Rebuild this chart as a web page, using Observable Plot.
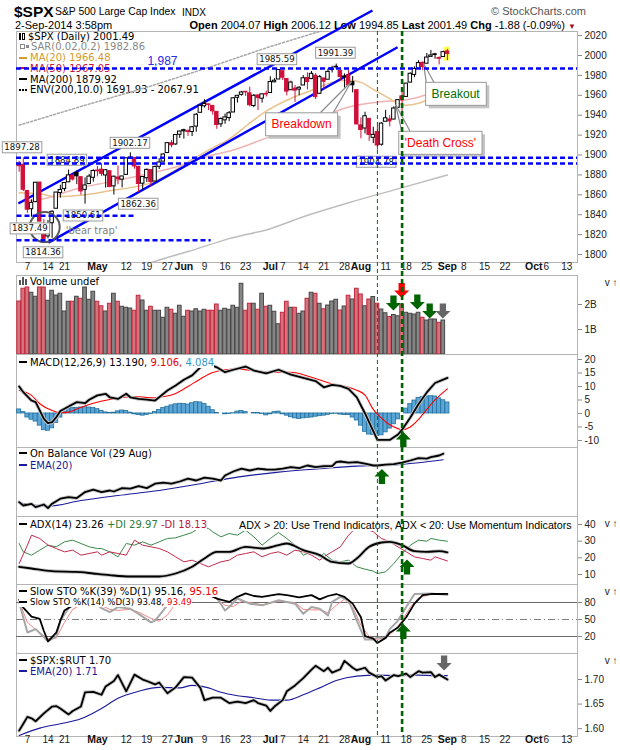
<!DOCTYPE html>
<html><head><meta charset="utf-8">
<script src="https://cdn.jsdelivr.net/npm/d3@7"></script>
<script src="https://cdn.jsdelivr.net/npm/@observablehq/plot@0.6"></script>
<style>
html,body{margin:0;padding:0;background:#fff;overflow:hidden;}
#wrap{position:relative;width:620px;height:750px;overflow:hidden;background:#fff;}
.t{position:absolute;white-space:pre;line-height:1;color:#000;}
.leg{position:absolute;left:19px;font:10px "DejaVu Sans",sans-serif;line-height:11px;white-space:pre;color:#000;}
.leg .b{background:#fff;}
.ic{display:inline-block;width:8px;height:2px;vertical-align:middle;margin:0 3px 1px 0;background:#000;}
</style></head>
<body><div id="wrap"></div>
<script>
// ---------------- DATA (trading days 3-Apr-2014 .. 2-Sep-2014, day index -1 .. 103) ----------------
const prevClose = 1890.90; // close of 2-Apr-2014
const openPx = [1891.43,1890.25,1863.92,1845.48,1852.64,1872.28,1830.65,1818.18,1831.45,1846.01,1861.73,1865.79,1872.57,1879.32,1881.97,1877.72,1865.00,1870.78,1877.10,
1884.39,1885.30,1879.45,1883.69,1868.53,1877.39,1875.27,1880.03,1896.75,1897.13,1888.16,1871.19,1876.66,1884.88,1873.34,1888.19,1893.32,1902.01,1911.77,1910.60,1920.33,
1923.87,1923.07,1923.06,1928.52,1942.41,1948.97,1950.34,1949.37,1943.35,1930.80,1934.84,1937.15,1942.73,1957.50,1960.45,1962.92,1961.97,1949.27,1959.89,1956.56,1960.79,
1962.29,1973.06,1975.88,1984.22,1976.39,1965.10,1966.67,1965.76,1969.86,1977.36,1976.35,1979.75,1961.54,1976.93,1975.65,1985.32,1988.07,1984.60,1978.25,1980.03,1973.21,1965.14,
1929.80,1926.62,1936.34,1917.29,1923.03,1910.35,1933.43,1935.73,1935.60,1947.41,1958.87,1958.36,1972.73,1980.46,1986.82,1992.60,1991.74,1998.59,2000.54,1997.42,1998.45,
2004.07];
const highPx = [1893.80,1897.28,1864.04,1854.95,1872.43,1872.53,1835.07,1834.19,1844.02,1862.31,1869.63,1871.89,1884.89,1879.75,1884.06,1877.72,1877.01,1880.60,1885.20,
1888.59,1891.33,1885.51,1883.69,1878.83,1889.07,1878.57,1897.13,1902.17,1897.13,1888.16,1878.28,1886.00,1884.88,1888.80,1896.33,1901.26,1912.28,1914.46,1920.03,1924.03,
1925.88,1925.07,1928.63,1941.74,1949.44,1955.55,1950.86,1949.37,1943.35,1937.30,1941.15,1943.69,1957.74,1959.87,1963.91,1963.74,1968.17,1960.83,1959.89,1961.47,1964.24,
1978.58,1976.67,1985.59,1984.22,1976.39,1974.15,1969.84,1968.67,1979.85,1982.52,1983.94,1981.80,1979.91,1976.93,1986.24,1989.23,1991.39,1984.60,1981.52,1984.85,1978.90,1965.14,
1937.35,1942.92,1936.34,1927.91,1928.89,1932.38,1944.90,1939.65,1948.41,1955.23,1964.04,1971.99,1982.57,1988.57,1994.76,1993.54,2001.95,2005.04,2002.14,1998.55,2004.28,
2006.12];
const lowPx = [1882.65,1863.26,1841.48,1837.49,1852.38,1833.08,1814.36,1815.80,1816.29,1846.01,1856.72,1863.18,1872.57,1873.91,1870.24,1859.70,1850.61,1870.78,1872.69,
1878.04,1878.50,1866.77,1867.72,1859.79,1870.05,1867.02,1880.03,1896.06,1885.77,1862.36,1864.82,1872.42,1868.14,1873.34,1885.39,1893.32,1902.01,1907.30,1909.82,1916.64,
1915.98,1918.79,1918.60,1922.93,1942.41,1947.16,1944.64,1940.08,1925.78,1927.69,1930.91,1933.55,1942.73,1952.26,1959.17,1958.89,1948.34,1947.49,1944.69,1952.18,1958.22,
1962.29,1972.58,1975.88,1974.88,1959.46,1965.10,1952.86,1959.63,1969.86,1965.34,1975.67,1955.59,1960.82,1965.77,1975.65,1982.44,1985.79,1974.37,1967.31,1969.95,1962.42,1930.67,
1916.37,1921.20,1913.77,1911.45,1904.78,1909.01,1933.43,1928.29,1935.60,1947.41,1941.50,1958.36,1972.73,1977.68,1986.82,1984.76,1991.74,1998.59,1996.20,1990.52,1998.45,
1994.85];
const closePx = [1888.77,1865.09,1845.04,1851.96,1872.18,1833.08,1815.69,1830.61,1842.98,1862.31,1864.85,1871.89,1879.55,1875.39,1878.61,1863.40,1869.43,1878.33,1883.95,
1883.68,1881.14,1884.66,1867.72,1878.21,1875.63,1878.48,1896.65,1897.45,1888.53,1870.85,1877.86,1885.08,1872.83,1888.03,1892.49,1900.53,1911.91,1909.78,1920.03,1923.57,
1924.97,1924.24,1927.88,1940.46,1949.44,1951.27,1950.79,1943.89,1930.11,1936.16,1937.78,1941.99,1956.98,1959.48,1962.87,1962.61,1949.98,1959.53,1957.22,1960.96,1960.23,
1973.32,1974.62,1985.44,1977.65,1963.71,1972.83,1964.68,1967.57,1977.10,1973.28,1981.57,1958.12,1978.22,1973.63,1983.53,1987.01,1987.98,1978.34,1978.91,1969.95,1970.07,1930.67,
1925.15,1938.99,1920.21,1920.24,1909.57,1931.59,1936.92,1933.75,1946.72,1955.18,1955.06,1971.74,1981.60,1986.51,1992.37,1988.40,1997.92,2000.02,2000.12,1996.74,2003.37,
2001.49];
// volume (billions), 3-Apr .. 29-Aug
const volB = [2.12,2.63,2.68,2.47,2.31,2.68,2.68,2.15,2.55,2.36,2.43,1.72,2.11,2.11,2.31,2.23,2.68,2.19,2.51,
2.11,1.93,1.72,2.03,2.43,2.11,1.91,1.87,1.84,1.75,2.35,2.16,1.75,1.91,1.75,1.75,1.47,1.87,1.79,1.63,1.95,
1.51,1.75,1.72,1.81,1.72,1.79,1.75,1.75,2.00,1.75,1.83,1.79,1.95,1.87,2.83,1.75,2.03,2.03,1.79,2.43,1.91,
1.95,1.71,1.21,1.67,2.11,1.87,1.87,1.63,1.72,2.23,2.47,2.43,2.03,1.81,1.96,2.12,2.19,1.76,1.92,2.35,2.20,2.63,
2.40,1.93,2.20,2.30,2.03,1.80,1.65,1.50,1.58,1.53,1.99,1.67,1.63,1.60,1.67,1.47,1.36,1.40,1.40,1.27,1.36];

// overlays on price
const ma20Day = [-1,4,8,15,21,27,31,35,40,45,50,55,59,64,70,75,79,82,85,88,90,93,96,99,103];
const ma20Val = [1862,1861,1858,1860,1864,1868,1872,1880,1893,1905,1916,1932,1944,1955,1965,1973,1975,1973,1966,1959,1954,1950,1952,1957,1966.48];
const ma50Day = [-1,5,13,21,29,37,45,51,59,67,72,78,84,88,91,95,99,103];
const ma50Val = [1853,1856,1866,1873,1880,1888,1899,1905,1917,1928,1937,1947,1952,1954,1954.5,1957,1962,1967.05];
const ma200Day = [28,35,40,50,60,68,79,91,103];
const ma200Val = [1788,1797,1803,1816,1826,1838,1852,1866,1879.92];
const envDay = [-1,15,30,45,60,75,90];
const envVal = [1930,1950,1968,1988,2009,2028,2048];
const levelVal = [1987,1897.28,1891.5];
const shortLevelVal = [1839,1814.36];
const shortLevelEnd = [26.8,45.5];
const chanStartDay = [-1.2,6.1], chanStartVal = [1851.3,1812];
const chanEndDay = [84.8,90.9], chanEndVal = [2045.2,2008.3];
const valLabels = ["1897.28","1884.89","1902.17","1850.61","1862.36","1837.49","1814.36","1985.59","1991.39","1904.78"];
const valLabelDay = [-0.3,10.6,25.9,14.5,27.9,1.6,4.8,61.6,75.8,85.7];
const valLabelPx = [1907.5,1895,1912,1839,1850.8,1826,1802,1996,2002.5,1893];
const callText = ["Breakdown","'Death Cross'","Breakout"];
const callKind = ["bear","bear","bull"];
const callDay = [67.6,101.3,105.0];
const callPx = [1930.7,1912.1,1961.3];
const ptrFromDay = [72.2,75.3,92.1,94.1,97.9,99.9];
const ptrFromPx = [1942.7,1942.7,1920.6,1922.6,1971.9,1971.9];
const ptrToDay = [79.7,79.7,90.4,90.4,97.2,97.2];
const ptrToPx = [1973.9,1973.9,1950.8,1950.8,1992,1992];
const trapDay = [5.2], trapPx = [1827.6];
const lastDay = [103], lastLo = [1994.3], lastHi = [2008.3];
const priceTicks = [1800,1820,1840,1860,1880,1900,1920,1940,1960,1980,2000,2020];
const xTickDay = [1,6,10,18,25,30,35,39,44,49,54,60,63,68,73,78,82,88,93,98,103,107,112,117,124,127,132];
const xTickText = ["7","14","21","May","12","19","27","Jun","9","16","23","Jul","7","14","21","28","Aug","11","18","25","Sep","8","15","22","Oct","6","13"];
const signalDay = [86,92]; // Aug 7 low, Aug 15 signal

// volume arrows
const volArrowDay = [89.9,91.9,95.7,98.7,101.9];
const volArrowVal = [2.06,2.56,2.10,1.74,1.74];
const volArrowKind = ["bull","bear","bull","bull","neutral"];

// MACD
const macdDay = [-1,0,2,3,5,6,7,8,9,11,13,15,16,18,20,21,23,25,26,28,30,32,33,35,37,39,41,43,45,47,49,51,54,56,59,62,65,68,71,73,75,77,79,81,83,85,86,89,91,92,94,96,98,100,103];
const macdVal = [10.0,7.9,4.8,4.2,-2.0,-3.6,-3.2,-1.4,0.9,2.6,4.2,3.8,5.1,6.7,7.3,6.0,5.4,7.3,6.0,5.4,5.1,4.8,6.0,8.5,10.4,12.5,14.1,17.1,18.3,17.1,15.3,16.2,17.4,15.9,14.9,16.2,14.4,13.2,12.0,9.7,10.6,10.2,9.1,6.0,0.0,-6.5,-9.8,-9.8,-7.8,-6.0,-1.5,3.5,7.8,11.3,13.19];
const sigDay = [-1,2,4,7,9,11,13,17,21,27,31,33,37,40,43,46,51,56,61,65,70,75,79,81,83,85,87,89,91,92,94,96,98,100,103];
const sigVal = [8.5,6.7,3.6,1.1,0.3,0.5,1.7,3.8,5.2,6.3,5.8,6.0,7.4,10.0,12.8,15.2,16.5,15.9,15.3,15.3,13.4,11.0,9.7,8.6,6.8,1.5,-1.7,-4.2,-5.6,-6.0,-5.0,-2.2,1.5,5.0,9.106];
const histVal = [1.5,0.5,-1.5,-2.3,-3.0,-4.5,-6.2,-6.4,-5.5,-3.5,
-1.5,0.5,1.8,2.0,2.1,2.2,2.3,2.2,2.0,1.6,
1.0,0.4,0.2,0.3,0.8,1.1,0.9,0.3,-0.3,-0.6,
-0.8,-0.5,-0.2,0.6,1.3,2.0,2.5,3.0,3.4,3.6,
3.5,3.3,3.8,4.2,4.1,3.5,2.5,1.2,0.2,0.0,
-0.3,-0.2,0.1,0.7,0.9,0.5,0.0,0.2,0.2,-0.2,
-0.7,-0.3,0.5,0.7,-0.3,-0.8,-1.4,-1.8,-2.0,-1.8,
-1.6,-1.5,-1.2,-1.0,-0.8,-0.5,-0.2,-0.1,-0.4,-0.6,
-0.6,-1.5,-2.6,-4.5,-6.8,-7.8,-8.0,-8.3,-8.1,-7.0,
-5.6,-4.0,-2.2,0.0,1.8,3.5,4.8,5.7,6.1,6.3,
6.4,6.3,5.6,4.9,4.084];
const macdArrowDay = [92.3], macdArrowVal = [-9.6];

// On Balance Volume (panel units)
const obvDay = [-1,0,2,3,5,6,7,9,11,13,15,17,19,21,22,24,26,28,30,32,34,36,38,40,42,44,46,48,49,51,53,55,57,59,61,63,65,67,69,71,73,75,76,77,79,81,83,85,86,88,90,92,94,96,98,99,101,102];
const obvVal = [7.2,5.5,6.3,4.7,6.0,4.2,6.4,8.9,9.7,9.2,12.2,13.4,12.2,13.0,12.5,14.2,13.9,15.2,14.2,16.4,16.9,16.4,17.5,18.9,18.0,19.4,18.9,18.0,20.5,22.5,23.9,23.0,23.9,23.5,23.4,23.9,24.7,24.2,25.5,24.7,25.2,25.2,27.2,27.5,26.9,27.2,26.4,25.5,25.5,25.9,26.2,26.9,28.0,29.2,28.9,29.7,30.5,31.4];
const obvEmaDay = [-1,6,14,23,33,43,52,62,72,81,86,91,96,102];
const obvEmaVal = [6.8,5.2,8.0,10.5,13.0,16.4,19.7,22.2,23.9,25.2,25.5,25.9,26.9,28.4];
const obvArrowDay = [87.1], obvArrowVal = [20];

// ADX
const adxDay = [-1,2,7,12,14,17,21,26,33,37,41,44,47,50,54,58,62,64,68,72,75,79,81,84,87,89,92,95,98,101,103];
const adxVal = [14.6,13.6,12,11.6,11.4,10.6,9.6,8.8,8.8,10.6,14.6,19.6,23.6,23.6,26.6,25.6,27.6,28.6,24.6,21.6,17.6,16.6,19.6,26.6,29.2,29.6,27.6,24.0,23.6,24.0,23.26];
const pdiDay = [-1,0,2,4,6,8,10,12,14,16,18,19,21,23,25,27,29,31,33,35,37,39,41,43,45,46,48,50,52,54,56,58,60,62,64,66,68,70,72,73,75,77,79,81,83,85,86,88,90,92,94,96,98,99,101,103];
const pdiVal = [28.6,23.6,21.6,24.6,27.6,26.6,29.6,30.6,28.6,26.6,25.6,25.6,23.6,20.6,28.6,27.6,29.6,27.6,29.6,31.6,32.0,33.6,35.2,38.6,37.6,35.6,32.6,34.6,33.6,36.6,32.6,27.6,31.6,35.2,31.6,27.6,21.6,23.6,20.6,22.6,18.6,17.6,18.6,14.6,13.2,12.0,10.6,11.6,16.6,22.6,27.6,30.6,30.0,31.6,30.6,29.97];
const mdiDay = [-1,1,2,4,6,8,10,12,14,16,18,19,21,23,25,27,29,31,33,35,37,39,41,43,45,46,48,50,52,54,56,58,60,62,64,66,68,70,72,73,75,77,79,81,83,85,87,89,91,93,95,97,99,100,103];
const mdiVal = [16.6,27.6,33.6,31.6,27.6,25.6,23.6,24.6,21.6,22.6,23.6,21.6,23.6,22.6,21.6,30.6,27.6,26.6,25.6,23.6,20.6,17.6,18.6,16.6,14.6,15.6,17.6,18.6,21.6,22.6,23.6,20.6,22.6,23.6,21.6,24.6,23.6,21.6,18.6,20.6,23.6,26.6,33.6,38.6,37.6,35.6,31.6,29.6,26.6,23.6,20.6,19.6,18.6,20.6,18.13];
const adxArrowDay = [93.2], adxArrowVal = [14.5];

// Slow stochastics
const sto39Day = [-1,0,2,4,5,6,8,9,10,12,15,18,22,27,31,36,41,45,47,50,52,54,56,58,62,64,67,70,72,74,76,78,80,82,83,85,86,88,89,91,93,95,97,99,101,103];
const sto39Val = [85,70.9,55,51,29.7,11.5,26.7,47.9,66,75,80,88,92,85,88,93,96,94,87,81,90,96,91.5,90,95,93,89,93,85.5,91.5,95,90,78,54,20.6,16.4,8.5,17.6,26.7,35.8,54,78,93,95,95,95.16];
const sto14Day = [-1,1,3,6,8,9,11,14,17,19,21,23,26,28,31,32,34,36,39,42,45,47,49,50,52,55,58,62,66,68,70,72,74,75,77,79,81,83,85,86,88,89,91,93,95,99,103];
const sto14Val = [80,27,33,11.5,20,47.9,70,85,82,70,63,72,69,60,45,48,66,85,92,95,93,88,66,72,87,78,75,84,78,60,72,69,57,81,90,84,48,14.6,14.6,18,18,33,48,72,95,96,93.48];
const stoDDay = [-1,1,3,6,8,10,12,15,18,21,23,26,28,31,33,35,37,41,45,47,49,51,53,55,58,62,66,68,70,72,74,76,78,80,82,84,86,88,90,92,94,96,99,103];
const stoDVal = [82,45,32,16,17,45,68,80,78,68,66,68,63,52,47,58,78,90,93,86,75,73,82,80,76,82,80,68,67,67,62,75,86,72,40,20,15,17,30,48,72,88,95,93.49];
const stoLevels = [80,20], stoMid = [50];
const stoArrowDay = [92.3], stoArrowVal = [28.9];

// $SPX:$RUT
const rutDay = [-1,0,1,2,3,5,7,8,9,11,12,14,15,17,19,20,22,23,25,27,29,30,32,33,35,37,39,41,43,44,46,48,50,52,54,56,57,59,60,61,63,64,66,68,70,71,73,74,75,77,78,80,81,83,84,86,87,88,90,91,93,94,96,97,99,100,101,103];
const rutVal = [1.596,1.61,1.624,1.621,1.615,1.631,1.645,1.646,1.641,1.629,1.636,1.645,1.674,1.675,1.669,1.686,1.697,1.709,1.676,1.71,1.70,1.697,1.69,1.694,1.672,1.684,1.705,1.704,1.683,1.658,1.663,1.663,1.652,1.655,1.652,1.658,1.652,1.647,1.636,1.645,1.658,1.676,1.688,1.703,1.72,1.728,1.717,1.724,1.714,1.721,1.738,1.724,1.719,1.724,1.714,1.705,1.707,1.698,1.709,1.707,1.712,1.705,1.717,1.714,1.715,1.705,1.71,1.70];
const rutEmaDay = [-1,4,9,14,19,23,28,33,38,41,45,48,52,56,60,64,68,72,76,81,86,91,96,100,103];
const rutEmaVal = [1.586,1.601,1.61,1.62,1.641,1.662,1.676,1.684,1.683,1.688,1.683,1.674,1.667,1.663,1.658,1.658,1.669,1.683,1.698,1.707,1.709,1.708,1.709,1.708,1.708];
const rutArrowDay = [102.2], rutArrowVal = [1.7337];

// ---------------- BUILD ----------------
const wrap = document.getElementById("wrap");
const add = h => wrap.insertAdjacentHTML("beforeend", h);
const RED = "#d0103a";
const KIND = {bull: "#006400", bear: "#ff0000", neutral: "#666666"};
const X = {type: "linear", domain: [-1.65, 134.6], axis: null};
const pts = (ds, vs) => ds.map((d, i) => ({d, v: vs[i]}));

const arrowDown = {draw(c, size) { const r = Math.sqrt(size / Math.PI), s = 0.42 * r;
  c.moveTo(-s, -r); c.lineTo(s, -r); c.lineTo(s, 0); c.lineTo(r, 0); c.lineTo(0, r); c.lineTo(-r, 0); c.lineTo(-s, 0); c.closePath(); }};
const arrowUp = {draw(c, size) { const r = Math.sqrt(size / Math.PI), s = 0.42 * r;
  c.moveTo(-s, r); c.lineTo(s, r); c.lineTo(s, 0); c.lineTo(r, 0); c.lineTo(0, -r); c.lineTo(-r, 0); c.lineTo(-s, 0); c.closePath(); }};

function panel(top, height, y, marks, mb = 0) {
  const svg = Plot.plot({
    width: 620, height, marginLeft: 16, marginRight: 43, marginTop: 0, marginBottom: mb,
    x: X, y, color: {type: "identity"}, marks,
    style: {background: "transparent", overflow: "visible", fontFamily: "'Liberation Sans', Arial, sans-serif", fontSize: "10px", color: "#222"}
  });
  svg.style.position = "absolute"; svg.style.left = "0px"; svg.style.top = top + "px";
  wrap.appendChild(svg);
  return svg;
}
// draw a bordered box (optionally with drop shadow) behind given label texts
function boxify(svg, labels, px, py, shadow) {
  const set = new Set(labels);
  Array.from(svg.querySelectorAll("text")).filter(t => set.has(t.textContent)).forEach(t => {
    const bb = t.getBBox(), tr = t.getAttribute("transform");
    const mk = (dx, fill, stroke) => {
      const r = document.createElementNS("http://www.w3.org/2000/svg", "rect");
      r.setAttribute("x", bb.x - px + dx); r.setAttribute("y", bb.y - py + dx);
      r.setAttribute("width", bb.width + 2 * px); r.setAttribute("height", bb.height + 2 * py);
      if (tr) r.setAttribute("transform", tr);
      r.setAttribute("fill", fill); r.setAttribute("stroke", stroke || "none"); r.setAttribute("stroke-width", "1");
      t.parentNode.insertBefore(r, t);
    };
    if (shadow) mk(3, "#c4c4c4", null);
    mk(0, "#fff", "#9a9a9a");
  });
}
const yAxis = (ticks, fmt) => Plot.axisY({anchor: "right", ticks, tickSize: 4, tickPadding: 3, stroke: "#8a8a8a", fill: "#222", tickFormat: fmt || (d => String(d))});
const frame = () => Plot.frame({stroke: "#b4b4b4"});
const xLabels = dy => [
  Plot.text(xTickDay.map((d, i) => ({d, t: xTickText[i]})).filter(o => !isNaN(+o.t)), {x: "d", text: "t", frameAnchor: "bottom", dy, fontSize: 10, fill: "#222"}),
  Plot.text(xTickDay.map((d, i) => ({d, t: xTickText[i]})).filter(o => isNaN(+o.t)), {x: "d", text: "t", frameAnchor: "bottom", dy, fontSize: 10.5, fontWeight: "bold", fill: "#111"})
];

// ----- header -----
add(`<div class="t" style="left:14px;top:3px;font:bold 15.5px 'Liberation Sans'">$SPX</div>
<div class="t" style="left:55px;top:6px;font:10.4px 'Liberation Sans'">S&amp;P 500 Large Cap Index</div>
<div class="t" style="left:182px;top:6.5px;font:10px 'Liberation Sans'">INDX</div>
<div class="t" style="left:491px;top:5px;font:11px 'Liberation Sans';color:#555">© StockCharts.com</div>
<div class="t" style="left:15px;top:19px;font:11px 'Liberation Sans'">2-Sep-2014 3:58pm</div>
<div class="t" style="right:44px;top:19px;font:11px 'Liberation Sans'"><b>Open</b> 2004.07 <b>High</b> 2006.12 <b>Low</b> 1994.85 <b>Last</b> 2001.49 <b>Chg</b> -1.88 (-0.09%) <span style="color:#a0102a;font-size:8px">▼</span></div>`);

// ----- price legend (under the chart lines) -----
add(`<div class="leg" style="top:31.5px;line-height:10.8px"><span style="display:inline-block;width:2px;height:7px;background:#000;margin-right:1px"></span><span style="display:inline-block;width:3px;height:7px;border:1px solid #000;box-sizing:border-box;margin-right:3px"></span>$SPX (Daily) 2001.49
<span style="color:#888"><span style="display:inline-block;width:3px;height:3px;border:1px solid #888;margin:0 1px 1px 1px;vertical-align:middle"></span><span style="display:inline-block;width:3px;height:3px;background:#888;margin:0 2px 1px 0;vertical-align:middle"></span>SAR(0.02,0.2) 1982.86</span>
<span style="color:#d49a2a"><i class="ic" style="background:#d49a2a"></i>MA(20) 1966.48</span>
<span style="color:#cc1040"><i class="ic" style="background:#cc1040"></i>MA(50) 1967.05</span>
<i class="ic"></i>MA(200) 1879.92
<i class="ic" style="background:none;border-top:2px dotted #000;height:0"></i>ENV(200,10.0) 1691.93 - 2067.91</div>`);

// ----- price panel -----
const candles = openPx.map((o, i) => ({d: i - 1, o, h: highPx[i], l: lowPx[i], c: closePx[i], p: i ? closePx[i - 1] : prevClose}));
const cCol = k => k.c < k.p ? RED : "#000";
const priceSvg = panel(31, 244, {domain: [1792, 2024.1]}, [
  frame(),
  Plot.rect(lastDay.map((d, i) => ({d, lo: lastLo[i], hi: lastHi[i]})), {x1: k => k.d - 0.75, x2: k => k.d + 0.75, y1: "lo", y2: "hi", fill: "#ffff55"}),
  Plot.line(pts(ma200Day, ma200Val), {x: "d", y: "v", stroke: "#bdbdbd", strokeWidth: 1.5, curve: "monotone-x", clip: true}),
  Plot.line(pts(envDay, envVal), {x: "d", y: "v", stroke: "#a8a8a8", strokeWidth: 1.5, strokeDasharray: "2,2", clip: true}),
  Plot.line(pts(ma50Day, ma50Val), {x: "d", y: "v", stroke: "#f0b4b4", strokeWidth: 1.5, curve: "monotone-x", clip: true}),
  Plot.line(pts(ma20Day, ma20Val), {x: "d", y: "v", stroke: "#eac28c", strokeWidth: 1.5, curve: "monotone-x", clip: true}),
  Plot.link(chanStartDay.map((d, i) => ({x1: d, y1: chanStartVal[i], x2: chanEndDay[i], y2: chanEndVal[i]})), {x1: "x1", y1: "y1", x2: "x2", y2: "y2", stroke: "#0000ff", strokeWidth: 2.5}),
  Plot.ruleX(candles, {x: "d", y1: "l", y2: "h", stroke: cCol, strokeWidth: 1}),
  Plot.rect(candles, {x1: k => k.d - 0.42, x2: k => k.d + 0.42, y1: "o", y2: k => Math.abs(k.c - k.o) < 0.6 ? k.o + 0.6 : k.c, fill: k => k.c >= k.o ? "#fff" : cCol(k), stroke: cCol, strokeWidth: 1}),
  Plot.dot(trapDay.map((d, i) => ({d, v: trapPx[i]})), {x: "d", y: "v", r: 15, stroke: "#5a5a5a", strokeWidth: 2, fill: "none"}),
  Plot.text(trapDay.map(d => ({d: d + 11.4, v: trapPx[0] - 3.6})), {x: "d", y: "v", text: () => "'bear trap'", fill: "#808080", fontSize: 10, fontFamily: "'DejaVu Sans'"}),
  Plot.text(valLabels.map((t, i) => ({t, d: valLabelDay[i], v: valLabelPx[i]})), {x: "d", y: "v", text: "t", fontSize: 8.6, fontFamily: "'DejaVu Sans'", fill: "#111"}),
  Plot.link(ptrFromDay.map((d, i) => ({x1: d, y1: ptrFromPx[i], x2: ptrToDay[i], y2: ptrToPx[i]})), {x1: "x1", y1: "y1", x2: "x2", y2: "y2", stroke: "#8a8a8a", strokeWidth: 1.2}),
  Plot.text(callText.map((t, i) => ({t, d: callDay[i], v: callPx[i], k: callKind[i]})), {x: "d", y: "v", text: "t", fontSize: 12, fill: k => k.k === "bull" ? "#007000" : "#ff0000"}),
  Plot.ruleY(levelVal, {stroke: "#0000ff", strokeWidth: 2.5, strokeDasharray: "5,3"}),
  Plot.link(shortLevelVal.map((v, i) => ({v, e: shortLevelEnd[i]})), {x1: () => -1.65, x2: "e", y1: "v", y2: "v", stroke: "#0000ff", strokeWidth: 2.5, strokeDasharray: "5,3"}),
  Plot.text([levelVal[0]], {x: () => 33.8, y: v => v + 7, text: () => "1,987", fill: "#2a2ae0", fontSize: 12}),
  yAxis(priceTicks),
  ...xLabels(7)
], 13);
boxify(priceSvg, valLabels, 2, 0.5, false);
boxify(priceSvg, callText, 6, 4.5, true);

// ----- volume -----
const vols = volB.map((v, i) => ({d: i - 1, v, up: closePx[i] >= (i ? closePx[i - 1] : prevClose)}));
panel(275, 79, {domain: [0, 3.16]}, [
  frame(),
  Plot.rect(vols, {x1: k => k.d - 0.45, x2: k => k.d + 0.45, y1: () => 0, y2: "v", fill: k => k.up ? "#868686" : "#d5737c", stroke: k => k.up ? "#474747" : "#c0283e", strokeWidth: 1}),
  Plot.dot(volArrowDay.map((d, i) => ({d, v: volArrowVal[i], k: volArrowKind[i]})), {x: "d", y: "v", r: 7.5, symbol: arrowDown, fill: k => KIND[k.k], stroke: "none"}),
  yAxis([1, 2], d => d + "B")
]);

// ----- MACD -----
panel(354, 93, {domain: [-12.6, 21.85]}, [
  frame(),
  Plot.rect(histVal.map((h, i) => ({d: i - 1, h})), {x1: k => k.d - 0.5, x2: k => k.d + 0.5, y1: () => 0, y2: "h", fill: "#5ba6d6", stroke: "#23709e", strokeWidth: 0.8}),
  Plot.line(pts(sigDay, sigVal), {x: "d", y: "v", stroke: "#ff0000", strokeWidth: 1.1, curve: "monotone-x"}),
  Plot.line(pts(macdDay, macdVal), {x: "d", y: "v", stroke: "#c8c8c8", strokeWidth: 3.6}),
  Plot.line(pts(macdDay, macdVal), {x: "d", y: "v", stroke: "#000", strokeWidth: 1.8}),
  Plot.dot(macdArrowDay.map((d, i) => ({d, v: macdArrowVal[i]})), {x: "d", y: "v", r: 7.5, symbol: arrowUp, fill: "#006400"}),
  yAxis([-10, -5, 0, 5, 10, 15, 20])
]);

// ----- OBV -----
panel(447, 69, {domain: [0, 34.5], axis: null}, [
  frame(),
  Plot.line(pts(obvEmaDay, obvEmaVal), {x: "d", y: "v", stroke: "#1a1a9a", strokeWidth: 1.1, curve: "monotone-x"}),
  Plot.line(pts(obvDay, obvVal), {x: "d", y: "v", stroke: "#c8c8c8", strokeWidth: 3.6}),
  Plot.line(pts(obvDay, obvVal), {x: "d", y: "v", stroke: "#000", strokeWidth: 1.8}),
  Plot.dot(obvArrowDay.map((d, i) => ({d, v: obvArrowVal[i]})), {x: "d", y: "v", r: 7.5, symbol: arrowUp, fill: "#006400"})
]);

// ----- ADX -----
panel(516, 68, {domain: [4, 44.8]}, [
  frame(),
  Plot.line(pts(pdiDay, pdiVal), {x: "d", y: "v", stroke: "#3a8a4a", strokeWidth: 1}),
  Plot.line(pts(mdiDay, mdiVal), {x: "d", y: "v", stroke: "#c22a4e", strokeWidth: 1}),
  Plot.line(pts(adxDay, adxVal), {x: "d", y: "v", stroke: "#c8c8c8", strokeWidth: 3.6, curve: "monotone-x", clip: true}),
  Plot.line(pts(adxDay, adxVal), {x: "d", y: "v", stroke: "#000", strokeWidth: 1.8, curve: "monotone-x", clip: true}),
  Plot.dot(adxArrowDay.map((d, i) => ({d, v: adxArrowVal[i]})), {x: "d", y: "v", r: 7.5, symbol: arrowUp, fill: "#006400"}),
  yAxis([10, 20, 30, 40])
]);

// ----- Slow STO -----
panel(584, 69, {domain: [-10, 111.8]}, [
  frame(),
  Plot.ruleY(stoLevels, {stroke: "#6a6a6a", strokeWidth: 1}),
  Plot.ruleY(stoMid, {stroke: "#808080", strokeWidth: 1, strokeDasharray: "7,3,1,3"}),
  Plot.line(pts(stoDDay, stoDVal), {x: "d", y: "v", stroke: "#f08a8a", strokeWidth: 1}),
  Plot.line(pts(sto14Day, sto14Val), {x: "d", y: "v", stroke: "#a6a6a6", strokeWidth: 2}),
  Plot.line(pts(sto39Day, sto39Val), {x: "d", y: "v", stroke: "#000", strokeWidth: 1.8}),
  Plot.dot(stoArrowDay.map((d, i) => ({d, v: stoArrowVal[i]})), {x: "d", y: "v", r: 7.5, symbol: arrowUp, fill: "#006400"}),
  yAxis([20, 50, 80])
]);

// ----- $SPX:$RUT -----
panel(653, 97, {domain: [1.584, 1.753]}, [
  frame(),
  Plot.line(pts(rutEmaDay, rutEmaVal), {x: "d", y: "v", stroke: "#1a1a9a", strokeWidth: 1.1, curve: "monotone-x"}),
  Plot.line(pts(rutDay, rutVal), {x: "d", y: "v", stroke: "#c8c8c8", strokeWidth: 3.6}),
  Plot.line(pts(rutDay, rutVal), {x: "d", y: "v", stroke: "#000", strokeWidth: 1.8}),
  Plot.dot(rutArrowDay.map((d, i) => ({d, v: rutArrowVal[i]})), {x: "d", y: "v", r: 7.5, symbol: arrowDown, fill: "#666666"}),
  yAxis([1.60, 1.65, 1.70], d => d.toFixed(2)),
  ...xLabels(6.5)
], 14);

// ----- panel legends -----
add(`<div class="leg" style="top:275.5px"><span style="display:inline-block;width:2px;height:5px;background:#555;margin-right:1px"></span><span style="display:inline-block;width:2px;height:8px;background:#555;margin-right:1px"></span><span style="display:inline-block;width:2px;height:6px;background:#555;margin-right:3px"></span>Volume undef</div>`);
add(`<div class="leg" style="top:356.5px"><span class="b"><i class="ic"></i>MACD(12,26,9) 13.190, <span style="color:#ee0000">9.106,</span> <span style="color:#3399cc">4.084</span></span></div>`);
add(`<div class="leg" style="top:447.5px;line-height:12px"><span class="b"><i class="ic"></i>On Balance Vol (29 Aug)</span><br><span class="b" style="color:#1a1a9a"><i class="ic" style="background:#1a1a9a"></i>EMA(20)</span></div>`);
add(`<div class="leg" style="top:518.5px"><span class="b"><i class="ic"></i>ADX(14) 23.26 <span style="color:#2e7d3a">+DI 29.97</span> <span style="color:#b8183e">-DI 18.13</span></span></div>`);
add(`<div class="t" style="left:239px;top:519px;font:10.7px 'Liberation Sans';background:#fff">ADX &gt; 20: Use Trend Indicators, ADX &lt; 20: Use Momentum Indicators</div>`);
add(`<div class="leg" style="top:586.5px;line-height:10px"><span class="b"><i class="ic"></i>Slow STO %K(39) %D(1) 95.16, <span style="color:#ee0000">95.16</span></span><br><span class="b" style="font-size:8.6px"><i class="ic"></i>Slow STO %K(14) %D(3) 93.48, <span style="color:#ee0000">93.49</span></span></div>`);
add(`<div class="leg" style="top:654.5px"><span class="b"><i class="ic"></i>$SPX:$RUT 1.70</span><br><span class="b" style="color:#1a1a9a"><i class="ic" style="background:#1a1a9a"></i>EMA(20) 1.71</span></div>`);

// ----- vertical signal lines across all panels -----
const ov = Plot.plot({
  width: 620, height: 750, marginLeft: 16, marginRight: 43, marginTop: 31, marginBottom: 15,
  x: X, y: {domain: [0, 1], axis: null},
  marks: [
    Plot.ruleX([signalDay[0]], {stroke: "#007000", strokeWidth: 1, strokeDasharray: "4,3"}),
    Plot.ruleX([signalDay[1]], {stroke: "#006400", strokeWidth: 2.6, strokeDasharray: "5,3"})
  ],
  style: {background: "transparent"}
});
ov.style.position = "absolute"; ov.style.left = "0px"; ov.style.top = "0px"; ov.style.pointerEvents = "none";
wrap.appendChild(ov);
</script></body></html>
